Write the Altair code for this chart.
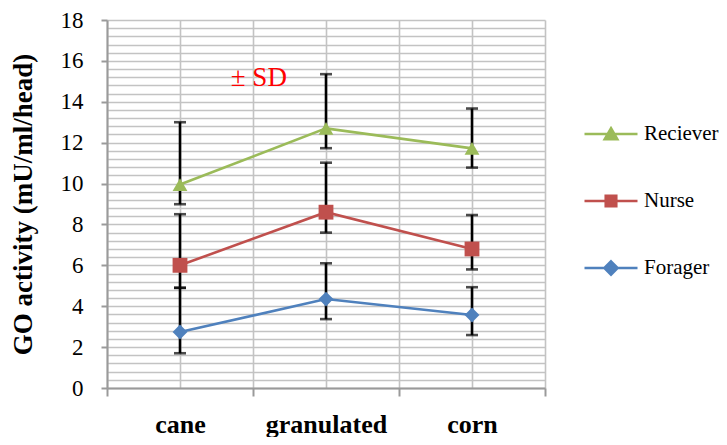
import altair as alt
import pandas as pd

categories = ["cane", "granulated", "corn"]
series_names = ["Reciever", "Nurse", "Forager"]
series_colors = ["#9BBB59", "#C0504D", "#4F81BD"]
series_shapes = ["triangle-up", "square", "diamond"]
legend_paths = [
    "M-1,0H1M0,-0.22L0.24,0.2L-0.24,0.2Z",
    "M-1,0H1M-0.2,-0.2H0.2V0.2H-0.2Z",
    "M-1,0H1M0,-0.25L0.25,0L0,0.25L-0.25,0Z",
]

reciever_mean = [9.95, 12.7, 11.72]
reciever_upper = [13.0, 15.35, 13.67]
reciever_lower = [8.99, 11.73, 10.78]
nurse_mean = [6.0, 8.6, 6.8]
nurse_upper = [8.5, 11.02, 8.46]
nurse_lower = [4.9, 7.6, 5.8]
forager_mean = [2.74, 4.35, 3.57]
forager_upper = [4.9, 6.1, 4.93]
forager_lower = [1.7, 3.37, 2.59]

y_max = 18
y_major_step = 2
y_minor_step = 0.4
sd_label = "± SD"
sd_pos = (1.04, 15.15)
y_title = "GO activity (mU/ml/head)"

rows = []
for name, m, up, lo in [
    ("Reciever", reciever_mean, reciever_upper, reciever_lower),
    ("Nurse", nurse_mean, nurse_upper, nurse_lower),
    ("Forager", forager_mean, forager_upper, forager_lower),
]:
    for i, c in enumerate(categories):
        rows.append({"series": name, "series_legend": name, "cat": c, "x": i + 0.5,
                     "mean": m[i], "upper": up[i], "lower": lo[i]})
df = pd.DataFrame(rows)

n = len(categories)
x_vals = [k * 0.5 for k in range(2 * n + 1)]
y_vals = [round(k * y_minor_step, 1) for k in range(int(round(y_max / y_minor_step)) + 1)]

label_expr = " : ".join(
    [f"datum.value == {i + 0.5} ? '{c}'" for i, c in enumerate(categories)]) + " : ''"

serif = "Liberation Serif"
grid_c = "#c3c3c3"
axis_c = "#9a9a9a"

x_axis = alt.Axis(
    values=x_vals, labelExpr=label_expr, title=None, grid=True,
    gridColor=grid_c, gridWidth=1.6, domainColor=axis_c, domainWidth=2,
    tickColor=axis_c, tickWidth=2, tickSize=8,
    tickOpacity={"condition": {"test": "datum.value % 1 == 0", "value": 1}, "value": 0},
    labelFont=serif, labelFontWeight="bold", labelFontSize=26, labelColor="black",
    labelPadding=15, labelOverlap=False, labelFlush=False,
)
y_axis = alt.Axis(
    values=y_vals, title=y_title, grid=True,
    labelExpr=f"datum.value % {y_major_step} == 0 ? format(datum.value, 'd') : ''",
    gridColor=grid_c, gridWidth=1.6, domainColor=axis_c, domainWidth=2,
    tickColor=axis_c, tickWidth=2, tickSize=6,
    tickOpacity={"condition": {"test": f"datum.value % {y_major_step} == 0", "value": 1}, "value": 0},
    labelFont=serif, labelFontSize=23, labelColor="black", labelPadding=18,
    labelOverlap=False, labelFlush=False,
    titleFont=serif, titleFontWeight="bold", titleFontSize=27, titleColor="black",
    titlePadding=23,
)

x_scale = alt.Scale(domain=[0, n], nice=False, zero=False)
y_scale = alt.Scale(domain=[0, y_max], nice=False)


def X(field="x"):
    return alt.X(f"{field}:Q", scale=x_scale, axis=x_axis)


def Y(field):
    return alt.Y(f"{field}:Q", scale=y_scale, axis=y_axis)


color = alt.Color("series:N", scale=alt.Scale(domain=series_names, range=series_colors), legend=None)

base = alt.Chart(df)
err = base.mark_rule(color="black", strokeWidth=2.6).encode(x=X(), y=Y("lower"), y2="upper:Q")
cap_up = base.mark_tick(orient="horizontal", size=12, thickness=2.6, color="black").encode(x=X(), y=Y("upper"))
cap_lo = base.mark_tick(orient="horizontal", size=12, thickness=2.6, color="black").encode(x=X(), y=Y("lower"))
lines = base.mark_line(strokeWidth=2.6).encode(x=X(), y=Y("mean"), color=color, detail="series:N")
points = base.mark_point(filled=True, size=220, opacity=1, strokeWidth=0).encode(
    x=X(), y=Y("mean"), color=color,
    shape=alt.Shape("series:N", scale=alt.Scale(domain=series_names, range=series_shapes), legend=None),
)

sd_df = pd.DataFrame({"x": [sd_pos[0]], "y": [sd_pos[1]], "t": [sd_label]})
sd_text = alt.Chart(sd_df).mark_text(font=serif, fontSize=27, color="#FF0000", align="center", baseline="middle").encode(
    x=X(), y=Y("y"), text="t:N")

leg = alt.Legend(title=None, orient="none", legendX=476, legendY=86, symbolSize=2809,
                 symbolStrokeWidth=2.5, labelFont=serif, labelFontSize=21, labelColor="black",
                 labelOffset=5, rowPadding=28, symbolOpacity=1, labelLimit=200)
legend_layer = base.transform_filter("false").mark_point(filled=True, size=2809, strokeWidth=2.5, opacity=1).encode(
    fill=alt.Fill("series_legend:N", scale=alt.Scale(domain=series_names, range=series_colors), legend=leg),
    stroke=alt.Stroke("series_legend:N", scale=alt.Scale(domain=series_names, range=series_colors), legend=leg),
    shape=alt.Shape("series_legend:N", scale=alt.Scale(domain=series_names, range=legend_paths), legend=leg),
)

chart = alt.layer(err, cap_up, cap_lo, lines, points, sd_text, legend_layer).resolve_scale(
    shape="independent", fill="independent", stroke="independent"
).properties(
    width=438, height=368, autosize="none",
    padding={"left": 99, "top": 12, "right": 174, "bottom": 49},
    background="white",
).configure_view(stroke=None)

chart.save("out.html", embed_options={"renderer": "svg", "actions": False})
